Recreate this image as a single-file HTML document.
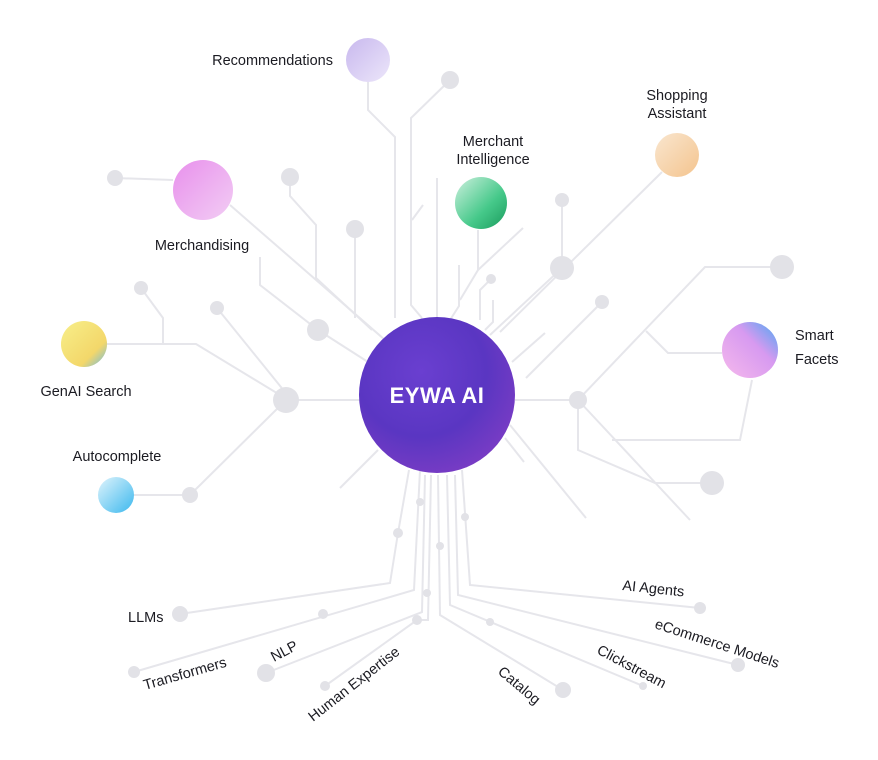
<!DOCTYPE html>
<html><head><meta charset="utf-8"><style>
html,body{margin:0;padding:0;background:#fff;}
svg{display:block;}
text{font-family:"Liberation Sans",sans-serif;font-size:14.5px;fill:#1b1b22;}
</style></head><body>
<svg width="878" height="760" viewBox="0 0 878 760" xmlns="http://www.w3.org/2000/svg">
<defs>
<radialGradient id="gc" cx="0.4" cy="0.35" r="0.7"><stop offset="0" stop-color="#6a3fd0"/><stop offset="0.6" stop-color="#5a36c2"/><stop offset="1" stop-color="#7a3cc4"/></radialGradient>
<linearGradient id="g1" x1="0" y1="0" x2="1" y2="1"><stop offset="0" stop-color="#c8b8ee"/><stop offset="1" stop-color="#ece6fa"/></linearGradient>
<linearGradient id="g2" x1="0" y1="0" x2="1" y2="1"><stop offset="0" stop-color="#e890ec"/><stop offset="1" stop-color="#f2cdf4"/></linearGradient>
<linearGradient id="g3" x1="0" y1="0" x2="1" y2="1"><stop offset="0" stop-color="#cdf0de"/><stop offset="0.6" stop-color="#46c98a"/><stop offset="1" stop-color="#1a9a5c"/></linearGradient>
<linearGradient id="g4" x1="0" y1="0" x2="1" y2="1"><stop offset="0" stop-color="#f9e6cf"/><stop offset="1" stop-color="#f4c48e"/></linearGradient>
<linearGradient id="g5" x1="1" y1="0" x2="0" y2="1"><stop offset="0" stop-color="#4aa8f2"/><stop offset="0.4" stop-color="#d79af0"/><stop offset="1" stop-color="#f6b9ec"/></linearGradient>
<linearGradient id="g6" x1="0" y1="0" x2="1" y2="1"><stop offset="0" stop-color="#f7ef8a"/><stop offset="0.7" stop-color="#f3d76a"/><stop offset="1" stop-color="#68b9e6"/></linearGradient>
<linearGradient id="g7" x1="0" y1="0" x2="1" y2="1"><stop offset="0" stop-color="#e0f4fc"/><stop offset="1" stop-color="#3cb8ee"/></linearGradient>
</defs>
<g fill="none" stroke="#e6e6eb" stroke-width="2">
<!-- top -->
<polyline points="368,82 368,110 395,137 395,318"/>
<polyline points="450,80 411,118 411,305 422,318"/>
<line x1="437" y1="178" x2="437" y2="318"/>
<line x1="423" y1="205" x2="412" y2="220"/>
<polyline points="478,230 478,270 460,300"/>
<polyline points="523,228 478,270"/>
<polyline points="459,265 459,306 450,320"/>
<polyline points="491,279 480,290 480,320"/>
<polyline points="493,300 493,322 485,330"/>
<line x1="662" y1="172" x2="500" y2="332"/>
<polyline points="562,200 562,268 490,335"/>
<polyline points="602,302 526,378"/>
<line x1="545" y1="333" x2="512" y2="362"/>
<!-- right -->
<line x1="515" y1="400" x2="578" y2="400"/>
<polyline points="578,400 705,267 782,267"/>
<polyline points="646,331 668,353 722,353"/>
<polyline points="752,380 740,440 612,440"/>
<polyline points="578,400 578,450 655,483 712,483"/>
<polyline points="578,400 690,520"/>
<line x1="510" y1="425" x2="586" y2="518"/>
<line x1="505" y1="438" x2="524" y2="462"/>
<!-- left -->
<polyline points="115,178 173,180"/>
<line x1="230" y1="205" x2="385" y2="340"/>
<polyline points="290,177 290,196 316,225 316,278 372,330"/>
<line x1="355" y1="229" x2="355" y2="318"/>
<polyline points="260,257 260,285 318,330 368,362"/>
<polyline points="141,288 163,318 163,344"/>
<polyline points="107,344 196,344 285,398"/>
<line x1="217" y1="308" x2="285" y2="392"/>
<line x1="286" y1="400" x2="362" y2="400"/>
<polyline points="133,495 190,495 286,400"/>
<line x1="340" y1="488" x2="378" y2="450"/>
<!-- bottom -->
<polyline points="409,470 398,533 390,583 180,614"/>
<polyline points="420,470 414,590 134,672"/>
<polyline points="425,475 422,612 266,673"/>
<polyline points="431,475 428,620 417,620 325,686"/>
<polyline points="438,475 440,615 563,690"/>
<polyline points="447,475 450,605 643,686"/>
<polyline points="455,475 458,595 738,665"/>
<polyline points="462,470 470,585 700,608"/>
</g>
<g fill="#e2e2e7">
<circle cx="450" cy="80" r="9"/><circle cx="491" cy="279" r="5"/><circle cx="562" cy="200" r="7"/><circle cx="562" cy="268" r="12"/>
<circle cx="602" cy="302" r="7"/><circle cx="782" cy="267" r="12"/><circle cx="578" cy="400" r="9"/><circle cx="712" cy="483" r="12"/>
<circle cx="115" cy="178" r="8"/><circle cx="290" cy="177" r="9"/><circle cx="355" cy="229" r="9"/><circle cx="318" cy="330" r="11"/>
<circle cx="141" cy="288" r="7"/><circle cx="217" cy="308" r="7"/><circle cx="286" cy="400" r="13"/><circle cx="190" cy="495" r="8"/>
<circle cx="398" cy="533" r="5"/><circle cx="420" cy="502" r="4"/><circle cx="427" cy="593" r="4"/><circle cx="417" cy="620" r="5"/>
<circle cx="440" cy="546" r="4"/><circle cx="465" cy="517" r="4"/><circle cx="490" cy="622" r="4"/><circle cx="323" cy="614" r="5"/>
<circle cx="180" cy="614" r="8"/><circle cx="134" cy="672" r="6"/><circle cx="266" cy="673" r="9"/><circle cx="325" cy="686" r="5"/>
<circle cx="563" cy="690" r="8"/><circle cx="643" cy="686" r="4"/><circle cx="738" cy="665" r="7"/><circle cx="700" cy="608" r="6"/>
</g>
<circle cx="368" cy="60" r="22" fill="url(#g1)"/>
<circle cx="203" cy="190" r="30" fill="url(#g2)"/>
<circle cx="481" cy="203" r="26" fill="url(#g3)"/>
<circle cx="677" cy="155" r="22" fill="url(#g4)"/>
<circle cx="750" cy="350" r="28" fill="url(#g5)"/>
<circle cx="84" cy="344" r="23" fill="url(#g6)"/>
<circle cx="116" cy="495" r="18" fill="url(#g7)"/>
<circle cx="437" cy="395" r="78" fill="url(#gc)"/>
<text x="437" y="403" text-anchor="middle" style="font-size:22px;font-weight:bold;fill:#fff;letter-spacing:0.5px">EYWA AI</text>
<text x="333" y="65" text-anchor="end">Recommendations</text>
<text x="493" y="146" text-anchor="middle">Merchant</text>
<text x="493" y="164" text-anchor="middle">Intelligence</text>
<text x="677" y="100" text-anchor="middle">Shopping</text>
<text x="677" y="118" text-anchor="middle">Assistant</text>
<text x="202" y="250" text-anchor="middle">Merchandising</text>
<text x="795" y="340">Smart</text>
<text x="795" y="364">Facets</text>
<text x="86" y="396" text-anchor="middle">GenAI Search</text>
<text x="117" y="461" text-anchor="middle">Autocomplete</text>
<text x="128" y="622">LLMs</text>
<text transform="translate(145,690) rotate(-16)">Transformers</text>
<text transform="translate(274,662) rotate(-28)">NLP</text>
<text transform="translate(313,722) rotate(-38)">Human Expertise</text>
<text transform="translate(497,673) rotate(40)">Catalog</text>
<text transform="translate(596,653) rotate(28)">Clickstream</text>
<text transform="translate(654,628) rotate(18)">eCommerce Models</text>
<text transform="translate(622,590) rotate(6)">AI Agents</text>
</svg>
</body></html>
